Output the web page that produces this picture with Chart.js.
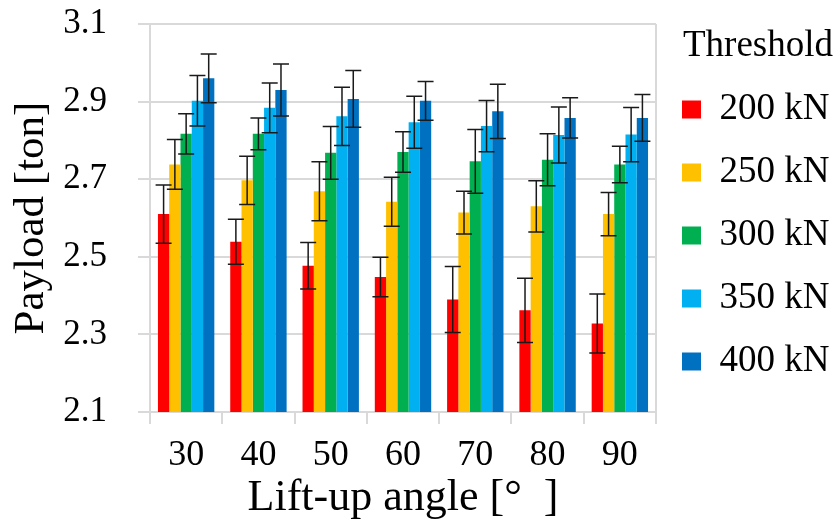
<!DOCTYPE html>
<html>
<head>
<meta charset="utf-8">
<script src="https://cdn.jsdelivr.net/npm/chart.js@4/dist/chart.umd.min.js"></script>
<style>
  html, body { margin: 0; padding: 0; background: #fff; }
  #wrap { width: 833px; height: 525px; }
</style>
</head>
<body>
<div id="wrap"><canvas id="canvas"></canvas></div>
<script>
// Data
var angles = ["30", "40", "50", "60", "70", "80", "90"];
var thresholds = ["200 kN", "250 kN", "300 kN", "350 kN", "400 kN"];

var payload200 = [2.610, 2.539, 2.477, 2.448, 2.390, 2.362, 2.328];
var payload250 = [2.738, 2.697, 2.669, 2.642, 2.614, 2.630, 2.610];
var payload300 = [2.817, 2.817, 2.768, 2.770, 2.746, 2.750, 2.738];
var payload350 = [2.902, 2.884, 2.862, 2.847, 2.837, 2.814, 2.815];
var payload400 = [2.960, 2.930, 2.907, 2.902, 2.875, 2.858, 2.858];

var err200 = [0.075, 0.058, 0.060, 0.051, 0.085, 0.083, 0.076];
var err250 = [0.064, 0.062, 0.076, 0.063, 0.055, 0.066, 0.056];
var err300 = [0.052, 0.041, 0.068, 0.052, 0.082, 0.067, 0.047];
var err350 = [0.065, 0.064, 0.075, 0.067, 0.066, 0.072, 0.070];
var err400 = [0.063, 0.067, 0.073, 0.050, 0.070, 0.052, 0.060];

var yMin = 2.1, yMax = 3.1, yStep = 0.2;

var colors = ["#FF0000", "#FFC000", "#00B050", "#00B0F0", "#0070C0"];
var values = [payload200, payload250, payload300, payload350, payload400];
var errors = [err200, err250, err300, err350, err400];

var gridColor = "#d9d9d9";
var font = "'Liberation Serif', 'Times New Roman', serif";

var datasets = [];
for (var i = 0; i < thresholds.length; i++) {
  datasets.push({
    label: thresholds[i],
    data: values[i],
    errors: errors[i],
    backgroundColor: colors[i],
    borderWidth: 0,
    categoryPercentage: 0.78,
    barPercentage: 1.0
  });
}

// error bars drawn through the y scale
var errorBars = {
  id: "errorBars",
  afterDatasetsDraw: function(chart) {
    var ctx = chart.ctx;
    var y = chart.scales.y;
    ctx.save();
    ctx.strokeStyle = "#1a1a1a";
    ctx.lineWidth = 1.5;
    chart.data.datasets.forEach(function(ds, di) {
      var meta = chart.getDatasetMeta(di);
      meta.data.forEach(function(bar, j) {
        var v = ds.data[j], e = ds.errors[j];
        var yt = y.getPixelForValue(v + e);
        var yb = y.getPixelForValue(v - e);
        var cap = 8;
        ctx.beginPath();
        ctx.moveTo(bar.x, yt); ctx.lineTo(bar.x, yb);
        ctx.moveTo(bar.x - cap, yt); ctx.lineTo(bar.x + cap, yt);
        ctx.moveTo(bar.x - cap, yb); ctx.lineTo(bar.x + cap, yb);
        ctx.stroke();
      });
    });
    ctx.restore();
  }
};

window.onload = function() {
  var ctx = document.getElementById("canvas").getContext("2d");
  window.myBar = new Chart(ctx, {
    type: "bar",
    data: { labels: angles, datasets: datasets },
    plugins: [errorBars],
    options: {
      responsive: true,
      maintainAspectRatio: false,
      animation: false,
      layout: { padding: { left: 3, top: 3, right: 0, bottom: 0 } },
      plugins: {
        tooltip: { enabled: false },
        legend: {
          position: "right",
          align: "start",
          maxWidth: 177,
          title: {
            display: true,
            text: "Threshold",
            position: "end",
            color: "#000",
            font: { family: font, size: 37, lineHeight: 1.0 },
            padding: { top: 25, bottom: 0 }
          },
          labels: {
            color: "#000",
            font: { family: font, size: 37 },
            boxWidth: 19,
            boxHeight: 18,
            padding: 26
          }
        }
      },
      scales: {
        x: {
          offset: true,
          grid: {
            offset: true,
            lineWidth: 2,
            color: function(c) { return (c.type === "scale" || c.index === 0) ? gridColor : "rgba(0,0,0,0)"; },
            tickColor: gridColor,
            tickLength: 12
          },
          border: { display: true, color: gridColor, width: 2 },
          ticks: { color: "#000", font: { family: font, size: 36, lineHeight: 1.2 }, padding: 10 },
          title: {
            display: true,
            text: "Lift-up angle [°  ]",
            color: "#000",
            font: { family: font, size: 44, lineHeight: 1.0 },
            padding: { top: 0, bottom: 5 }
          },
          afterFit: function(s) {
            s.height = 113;
          }
        },
        y: {
          min: yMin,
          max: yMax,
          grid: { color: gridColor, lineWidth: 2, tickLength: 12 },
          border: { display: true, color: gridColor, width: 2 },
          ticks: {
            stepSize: yStep,
            color: "#000",
            font: { family: font, size: 35 },
            padding: 31,
            callback: function(v) { return v.toFixed(1); }
          },
          title: {
            display: true,
            text: "Payload [ton]",
            color: "#000",
            font: { family: font, size: 43 },
            padding: { top: 3, bottom: 0 }
          },
          afterFit: function(s) {
            s.width = 147;
            s.paddingTop = 24;
            s.paddingBottom = 21;
          }
        }
      }
    }
  });
};
</script>
</body>
</html>
